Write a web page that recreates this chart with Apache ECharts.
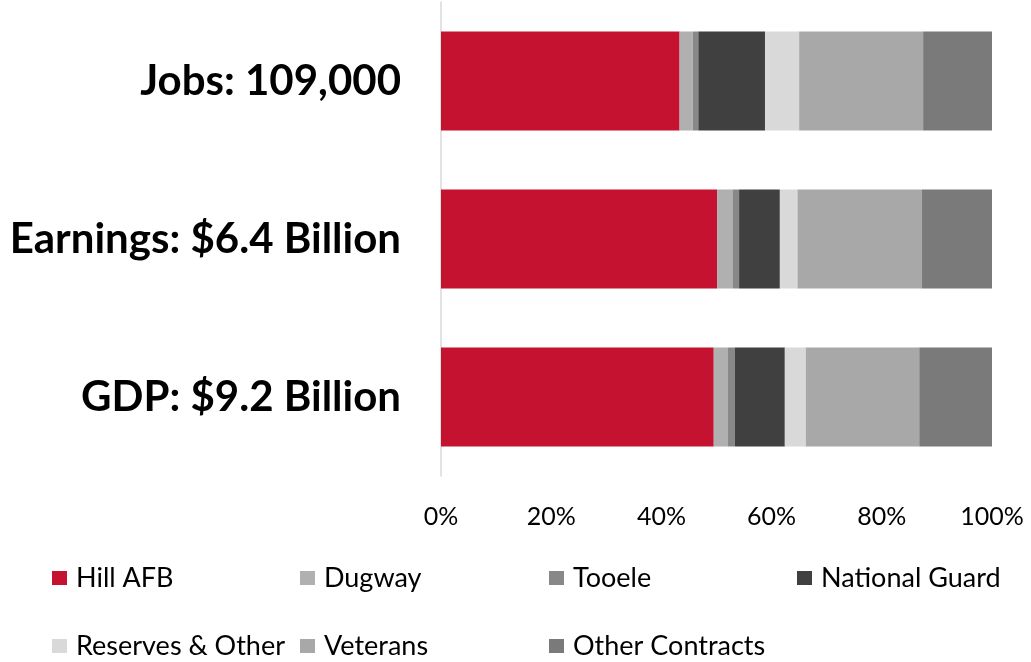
<!DOCTYPE html>
<html>
<head>
<meta charset="utf-8">
<script src="https://cdn.jsdelivr.net/npm/echarts@6/dist/echarts.min.js"></script>
<style>html,body{margin:0;padding:0;background:#fff}#c{width:1031px;height:662px}</style>
</head>
<body>
<div id="c"></div>
<script>
const categories = ['Jobs: 109,000', 'Earnings: $6.4 Billion', 'GDP: $9.2 Billion'];
const seriesNames = ['Hill AFB', 'Dugway', 'Tooele', 'National Guard', 'Reserves & Other', 'Veterans', 'Other Contracts'];
const hillAFB        = [43.3, 50.1, 49.5];
const dugway         = [2.4, 2.8, 2.5];
const tooele         = [1.0, 1.2, 1.3];
const nationalGuard  = [12.1, 7.4, 9.1];
const reservesOther  = [6.2, 3.2, 3.8];
const veterans       = [22.5, 22.6, 20.6];
const otherContracts = [12.5, 12.8, 13.3];
const tickLabels = ['0%', '20%', '40%', '60%', '80%', '100%'];

const values = [hillAFB, dugway, tooele, nationalGuard, reservesOther, veterans, otherContracts];
const colors = ['#C41230', '#B0B0B0', '#888888', '#404040', '#D9D9D9', '#A8A8A8', '#7A7A7A'];
const FONT = 'Lato';

const legendPos = [[52,564],[300,564],[549,564],[797,564],[52,632],[300,632],[549,632]];

const chart = echarts.init(document.getElementById('c'));
chart.setOption({
  animation: false,
  grid: { left: 441, right: 39, top: 2, bottom: 186, containLabel: false },
  xAxis: {
    type: 'value', min: 0, max: 100, interval: 20,
    axisLine: { show: false }, axisTick: { show: false }, splitLine: { show: false },
    axisLabel: {
      margin: 28, color: '#000', fontFamily: FONT, fontSize: 25,
      formatter: v => tickLabels[Math.round(v / 20)]
    }
  },
  yAxis: {
    type: 'category', data: categories, inverse: true,
    axisLine: { show: true, lineStyle: { color: '#D9D9D9', width: 1.5 } },
    axisTick: { show: false },
    axisLabel: { margin: 40, color: '#000', fontFamily: FONT, fontSize: 42, fontWeight: 'bold' }
  },
  legend: seriesNames.map((n, i) => ({
    data: [n], left: legendPos[i][0], top: legendPos[i][1],
    itemWidth: 15, itemHeight: 14, icon: 'rect', padding: 0,
    textStyle: { fontFamily: FONT, fontSize: 27, lineHeight: 28, color: '#000', padding: [0, 0, 0, 4] }
  })),
  series: seriesNames.map((n, i) => ({
    name: n, type: 'bar', stack: 'total', barWidth: 99,
    itemStyle: { color: colors[i] },
    data: values[i]
  }))
});
</script>
</body>
</html>
